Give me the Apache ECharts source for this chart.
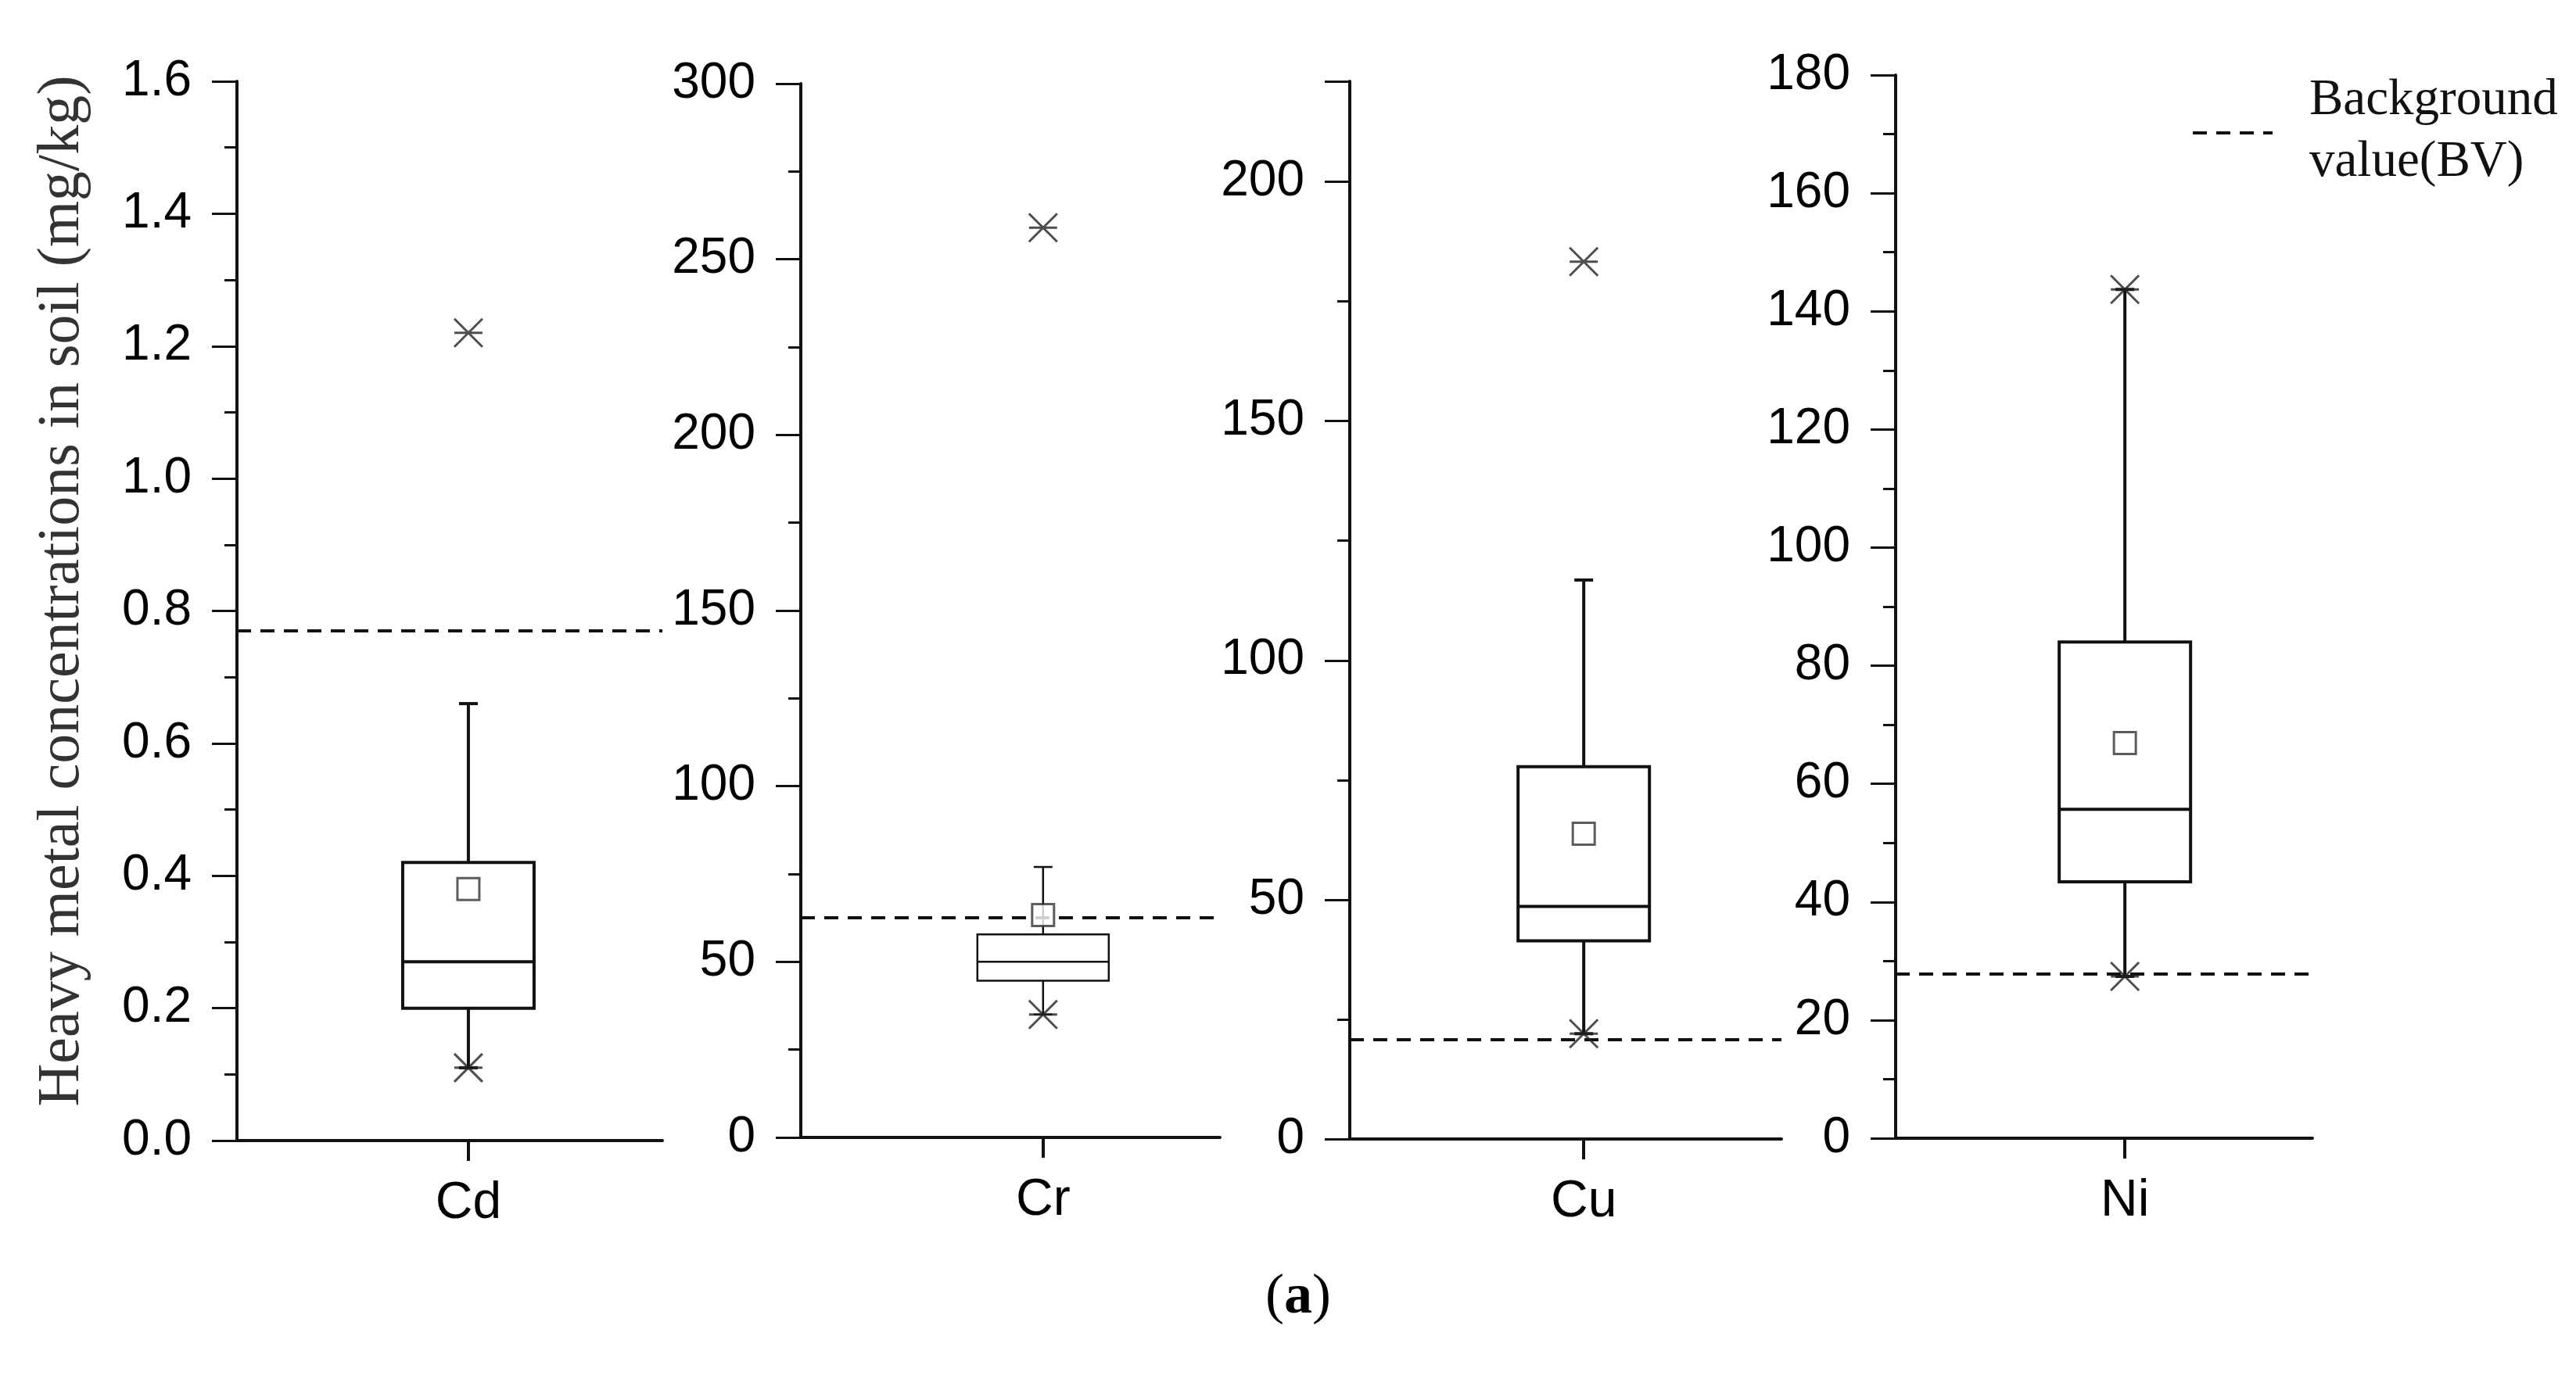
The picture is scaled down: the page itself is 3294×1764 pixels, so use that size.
<!DOCTYPE html>
<html><head><meta charset="utf-8">
<script src="https://cdn.jsdelivr.net/npm/echarts@6/dist/echarts.min.js"></script>
<style>html,body{margin:0;padding:0;background:#fff}#c{width:3294px;height:1764px}</style>
</head><body><div id="c"></div>
<script>
const metals = ['Cd','Cr','Cu','Ni'];
// [whiskerMin, Q1, median, Q3, whiskerMax]
const boxStats = [
  [0.11, 0.20, 0.27, 0.42, 0.66],
  [35, 44.6, 50, 57.8, 77],
  [22, 41.4, 48.6, 77.8, 116.8],
  [27.4, 43.4, 55.7, 84, 143.7]
];
const means = [0.38, 63.3, 63.8, 66.9];
const starPoints = [[0.11, 1.22], [35, 259], [22, 183.3], [27.4, 143.7]];
const backgroundValues = [0.765, 62.6, 20.8, 27.8];
const yMax = [1.6, 300, 221, 180];
const yInterval = [0.2, 50, 50, 20];

const grids = [
  {left:303, width:544, top:104, height:1355},
  {left:1024, width:536, top:107, height:1348},
  {left:1726, width:552, top:104, height:1353},
  {left:2424, width:533, top:96, height:1360}
];
const boxX = [0.544, 0.578, 0.542, 0.55];
const lw = [4, 2.5, 4, 4];
const star = 'path://M0,0L10,10M10,0L0,10M0,5L10,5';
const font = 'Liberation Sans, Arial, sans-serif';

const xAxis = [], yAxis = [], series = [];
metals.forEach((m, i) => {
  xAxis.push({
    type:'value', gridIndex:i, min:0, max:1,
    axisLine:{show:true, lineStyle:{color:'#111', width:4}},
    splitLine:{show:false},
    axisTick:{show:true, customValues:[boxX[i]], length:26, inside:false, lineStyle:{color:'#111', width:4}},
    axisLabel:{show:true, customValues:[boxX[i]], formatter:()=>m, fontSize:66, color:'#000', fontFamily:font, margin:48}
  });
  yAxis.push({
    type:'value', gridIndex:i, min:0, max:yMax[i], interval:yInterval[i],
    axisLine:{show:true, lineStyle:{color:'#111', width:4}},
    splitLine:{show:false},
    axisTick:{show:true, length:32, lineStyle:{color:'#111', width:3}},
    minorTick:{show:true, splitNumber:2, length:16, lineStyle:{color:'#111', width:3}},
    axisLabel:{fontSize:64, color:'#000', fontFamily:font, margin:58,
      formatter: v => (i===2 && v % 50 !== 0) ? '' : (i===0 ? v.toFixed(1) : String(v))}
  });
  series.push({
    type:'custom', xAxisIndex:i, yAxisIndex:i,
    data:[[boxX[i]].concat(boxStats[i])],
    renderItem:(params, api) => {
      const x = api.value(0);
      const p = k => api.coord([x, api.value(k)]);
      const pMin=p(1), pQ1=p(2), pMed=p(3), pQ3=p(4), pMax=p(5);
      const hw = 84, cap = 12, cx = pMin[0];
      const st = {stroke:'#111', lineWidth:lw[i], fill:null};
      return {type:'group', children:[
        {type:'line', shape:{x1:cx,y1:pQ3[1],x2:cx,y2:pMax[1]}, style:st},
        {type:'line', shape:{x1:cx,y1:pQ1[1],x2:cx,y2:pMin[1]}, style:st},
        {type:'line', shape:{x1:cx-cap,y1:pMax[1],x2:cx+cap,y2:pMax[1]}, style:st},
        {type:'line', shape:{x1:cx-cap,y1:pMin[1],x2:cx+cap,y2:pMin[1]}, style:st},
        {type:'rect', shape:{x:cx-hw,y:pQ3[1],width:2*hw,height:pQ1[1]-pQ3[1]}, style:{stroke:'#111', lineWidth:lw[i], fill:'#fff'}},
        {type:'line', shape:{x1:cx-hw,y1:pMed[1],x2:cx+hw,y2:pMed[1]}, style:st}
      ]};
    },
    markLine:{silent:true, symbol:'none', label:{show:false},
      lineStyle:{color:'#111', width:4, type:[18,12]},
      data:[{yAxis:backgroundValues[i]}]},
    z:2
  });
  series.push({
    type:'scatter', xAxisIndex:i, yAxisIndex:i, symbol:'rect', symbolSize:28,
    itemStyle:{color:'#fff', borderColor:'#333', borderWidth:3},
    data:[[boxX[i], means[i]]], z:5
  });
  series.push({
    type:'scatter', xAxisIndex:i, yAxisIndex:i, symbol:star, symbolSize:36,
    itemStyle:{color:'transparent', borderColor:'#222', borderWidth:3},
    data:starPoints[i].map(v => [boxX[i], v]), z:5
  });
});

const chart = echarts.init(document.getElementById('c'), null, {renderer:'canvas'});
chart.setOption({
  backgroundColor:'#fff',
  animation:false,
  grid:grids,
  xAxis, yAxis, series,
  graphic:[
    {type:'text', x:80, y:756, rotation:Math.PI/2,
      style:{text:'Heavy metal concentrations in soil (mg/kg)', font:'76px "Liberation Serif", "Times New Roman", serif', fill:'#333', align:'center', verticalAlign:'middle'}},
    {type:'line', shape:{x1:2804,y1:170,x2:2906,y2:170}, style:{stroke:'#111', lineWidth:4, lineDash:[18,12]}},
    {type:'text', x:2953, y:129, style:{text:'Background', font:'65px "Liberation Serif", serif', fill:'#111', verticalAlign:'middle'}},
    {type:'text', x:2953, y:208, style:{text:'value(BV)', font:'65px "Liberation Serif", serif', fill:'#111', verticalAlign:'middle'}},
    {type:'text', x:1660, y:1660, style:{text:'({b|a})', font:'72px "Liberation Serif", serif', fill:'#000', align:'center', verticalAlign:'middle',
      rich:{b:{fontWeight:'bold', fontSize:72, fontFamily:'Liberation Serif'}}}}
  ]
});
</script></body></html>
